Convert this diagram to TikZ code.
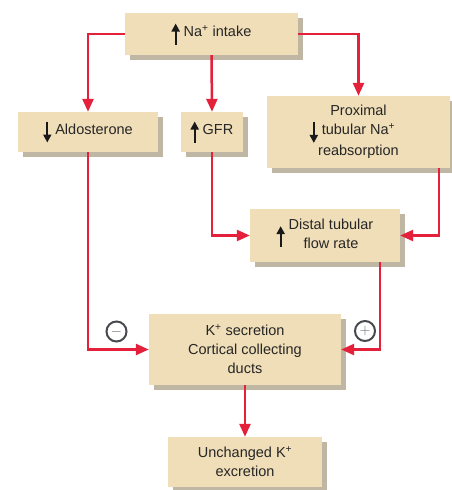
\documentclass[tikz,border=0pt]{standalone}
\usepackage{fontspec}
\setmainfont{Liberation Sans}
\usetikzlibrary{shadows,arrows.meta}

\definecolor{boxtan}{RGB}{240,222,184}
\definecolor{boxshade}{RGB}{192,182,164}
\definecolor{linkred}{RGB}{228,32,58}
\definecolor{signgray}{RGB}{70,74,78}

\newcommand\uparr{\tikz[baseline=0pt]\draw[black!90, line width=2.2pt,-{Triangle[length=8pt,width=8pt]}] (0pt,-8pt) -- (0pt,13pt);}
\newcommand\downarr{\tikz[baseline=0pt]\draw[black!90, line width=2.2pt,-{Triangle[length=8pt,width=8pt]}] (0pt,13pt) -- (0pt,-8pt);}

\tikzset{
  box/.style={fill=boxtan, inner sep=0pt, align=center,
    font=\fontsize{14.5}{19}\selectfont, text=black!85,
    drop shadow={shadow xshift=5pt, shadow yshift=-5pt, fill=boxshade, opacity=1}},
  link/.style={draw=linkred, line width=2.5pt, -{Triangle[length=13pt,width=11pt]}},
  sign/.style={circle, draw=signgray, line width=2pt, minimum size=20pt,
    inner sep=0pt, text=signgray!85, font=\fontsize{14}{14}\selectfont}
}

\begin{document}
\begin{tikzpicture}[x=1pt,y=-1pt]
  \useasboundingbox (0,0) rectangle (451,490);

  % boxes
  \node[box, minimum width=173pt, minimum height=42pt] (na) at (211.5,34)
    {\uparr\ Na\textsuperscript{+} intake};
  \node[box, minimum width=140pt, minimum height=40pt] (aldo) at (88,132)
    {\downarr\ Aldosterone};
  \node[box, minimum width=62pt, minimum height=40pt] (gfr) at (212,132)
    {\uparr\ GFR};
  \node[box, minimum width=183pt, minimum height=72pt] (prox) at (358.5,132)
    {Proximal\\\llap{\downarr\ }tubular Na\textsuperscript{+}\\reabsorption};
  \node[box, minimum width=150pt, minimum height=53pt] (distal) at (325,235.5)
    {\uparr\ \begin{tabular}{@{}c@{}}Distal tubular\\flow rate\end{tabular}};
  \node[box, minimum width=192pt, minimum height=71pt] (ksec) at (245,349.5)
    {K\textsuperscript{+} secretion\\Cortical collecting\\ducts};
  \node[box, minimum width=154pt, minimum height=50pt] (unch) at (245,462)
    {Unchanged K\textsuperscript{+}\\excretion};

  % signs
  \node[sign] (minus) at (116.5,331.5) {$-$};
  \node[sign] (plus) at (365,331) {$+$};

  % connectors
  \draw[link] (na.west) -| (aldo.north);
  \draw[link] (na.south) -- (gfr.north);
  \draw[link] (na.east) -| (prox.north);
  \draw[link] (aldo.south) |- (ksec.west);
  \draw[link] (gfr.south) |- (distal.west);
  \draw[link] ([xshift=-11pt]prox.south east) |- (distal.east);
  \draw[link] ([xshift=-20pt]distal.south east) |- (ksec.east);
  \draw[link] (ksec.south) -- (unch.north);
\end{tikzpicture}
\end{document}
